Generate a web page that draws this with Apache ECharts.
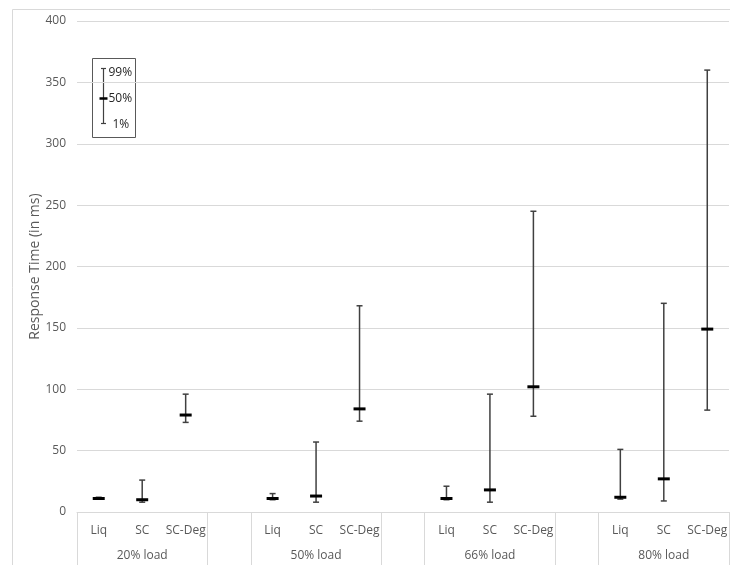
<!DOCTYPE html>
<html>
<head>
<meta charset="utf-8">
<script src="https://cdn.jsdelivr.net/npm/echarts@6/dist/echarts.min.js"></script>
<style>html,body{margin:0;padding:0;background:#fff}#c{width:730px;height:565px}</style>
</head>
<body>
<div id="c"></div>
<script>
const categories = ['Liq','SC','SC-Deg','', 'Liq','SC','SC-Deg','', 'Liq','SC','SC-Deg','', 'Liq','SC','SC-Deg'];
const groupLabels = ['20% load','50% load','66% load','80% load'];
const yTicks = [0,50,100,150,200,250,300,350,400];
// per group: Liq, SC, SC-Deg
const p1  = [10.5, 8, 73,   10, 8, 74,    10, 8, 78,     10.5, 9, 83];
const p50 = [11, 10, 79,    11, 13, 84,   11, 18, 102,   12, 27, 149];
const p99 = [12, 26, 96,    15, 57, 168,  21, 96, 245,   51, 170, 360];

const data = [];
for (let g = 0; g < groupLabels.length; g++) {
  for (let i = 0; i < 3; i++) {
    const k = g * 3 + i;
    data.push([g * 4 + i, p1[k], p50[k], p99[k]]);
  }
}
const FONT = 'Open Sans';
const chart = echarts.init(document.getElementById('c'));
chart.setOption({
  animation: false,
  backgroundColor: '#fff',
  textStyle: {fontFamily: FONT},
  grid: {left: 77, right: 1, top: 21, bottom: 53, containLabel: false, outerBoundsMode: 'none'},
  xAxis: {
    type: 'category',
    data: categories,
    boundaryGap: true,
    axisLine: {lineStyle: {color: '#d9d9d9'}},
    axisTick: {
      show: true, length: 60,
      lineStyle: {color: '#d9d9d9'},
      interval: function (idx) { return idx % 4 === 0 || idx % 4 === 3; }
    },
    axisLabel: {
      interval: 0, color: '#595959', fontSize: 12, fontFamily: FONT,
      margin: 6, lineHeight: 25,
      formatter: function (v, idx) {
        return idx % 4 === 1 ? v + '\n' + groupLabels[(idx - 1) / 4] : v;
      }
    }
  },
  yAxis: {
    type: 'value', min: yTicks[0], max: yTicks[yTicks.length - 1], interval: yTicks[1] - yTicks[0],
    name: 'Response Time (in ms)', nameLocation: 'middle', nameGap: 35, nameMoveOverlap: false,
    nameTextStyle: {color: '#595959', fontSize: 14, fontFamily: FONT},
    axisLine: {show: false}, axisTick: {show: false},
    axisLabel: {color: '#595959', fontSize: 12, margin: 11, fontFamily: FONT},
    splitLine: {lineStyle: {color: '#d9d9d9'}}
  },
  series: [{
    type: 'custom',
    data: data,
    encode: {x: 0, y: [1, 2, 3]},
    renderItem: function (params, api) {
      const c = api.value(0);
      const lo = api.coord([c, api.value(1)]);
      const md = api.coord([c, api.value(2)]);
      const hi = api.coord([c, api.value(3)]);
      const x = lo[0];
      const ws = {stroke: '#404040', lineWidth: 1.5};
      return {type: 'group', children: [
        {type: 'line', shape: {x1: x, y1: lo[1], x2: x, y2: hi[1]}, style: ws},
        {type: 'line', shape: {x1: x - 3, y1: hi[1], x2: x + 3, y2: hi[1]}, style: ws},
        {type: 'line', shape: {x1: x - 3, y1: lo[1], x2: x + 3, y2: lo[1]}, style: ws},
        {type: 'line', shape: {x1: x - 6, y1: md[1], x2: x + 6, y2: md[1]}, style: {stroke: '#000', lineWidth: 3}}
      ]};
    }
  }],
  graphic: [
    {type: 'rect', left: 10, top: 7, shape: {width: 760, height: 620}, style: {fill: 'none', stroke: '#d9d9d9', lineWidth: 1}, silent: true, z: -1},
    {type: 'group', left: 92, top: 58, children: [
      {type: 'rect', shape: {x: 0, y: 0, width: 43, height: 79}, style: {fill: '#fff', stroke: '#595959', lineWidth: 1}},
      {type: 'line', shape: {x1: 11, y1: 10, x2: 11, y2: 65}, style: {stroke: '#404040', lineWidth: 1.2}},
      {type: 'line', shape: {x1: 8.5, y1: 10, x2: 13.5, y2: 10}, style: {stroke: '#404040', lineWidth: 1.2}},
      {type: 'line', shape: {x1: 8.5, y1: 65, x2: 13.5, y2: 65}, style: {stroke: '#404040', lineWidth: 1.2}},
      {type: 'line', shape: {x1: 7, y1: 40, x2: 15, y2: 40}, style: {stroke: '#000', lineWidth: 2.5}},
      {type: 'text', x: 16, y: 14, style: {text: '99%', fill: '#262626', font: '12px "Open Sans"', verticalAlign: 'middle'}},
      {type: 'text', x: 16, y: 40, style: {text: '50%', fill: '#262626', font: '12px "Open Sans"', verticalAlign: 'middle'}},
      {type: 'text', x: 20, y: 66, style: {text: '1%', fill: '#262626', font: '12px "Open Sans"', verticalAlign: 'middle'}}
    ]}
  ]
});
</script>
</body>
</html>
